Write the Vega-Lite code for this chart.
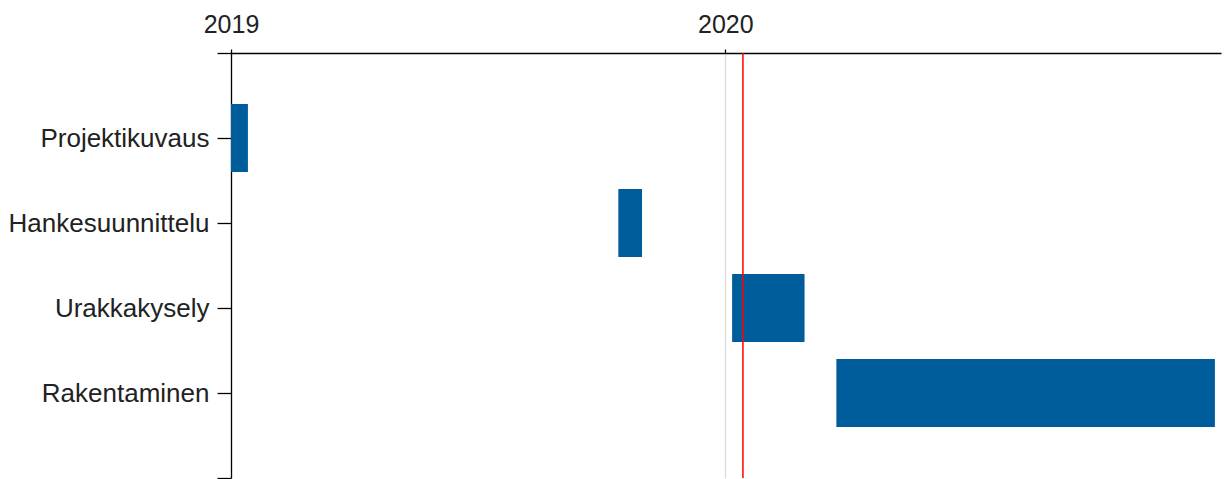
{
  "$schema": "https://vega.github.io/schema/vega-lite/v6.json",
  "description": "Gantt chart of project phases",
  "autosize": {"type": "none"},
  "padding": {"left": 231, "top": 53, "right": 9, "bottom": 1},
  "width": 990,
  "height": 425,
  "background": "white",
  "config": {
    "view": {"stroke": null},
    "font": "Liberation Sans",
    "axis": {
      "labelFont": "Liberation Sans",
      "labelColor": "#222222",
      "domainColor": "#000000",
      "tickColor": "#000000",
      "domainWidth": 1.3,
      "tickWidth": 1.3
    }
  },
  "layer": [
    {
      "data": {
        "values": [
          {"task": "Projektikuvaus", "start": "2019-01-01T00:00:00", "end": "2019-01-13T12:00:00"},
          {"task": "Hankesuunnittelu", "start": "2019-10-14T00:00:00", "end": "2019-10-31T12:00:00"},
          {"task": "Urakkakysely", "start": "2020-01-06T00:00:00", "end": "2020-02-28T12:00:00"},
          {"task": "Rakentaminen", "start": "2020-03-23T00:00:00", "end": "2020-12-27T12:00:00"}
        ]
      },
      "mark": {"type": "bar", "size": 68, "color": "#005d9c"},
      "encoding": {
        "x": {
          "field": "start",
          "type": "temporal",
          "scale": {
            "domain": [
              {"year": 2019, "month": 1, "date": 1},
              {"year": 2021, "month": 1, "date": 1}
            ],
            "nice": false
          },
          "axis": {
            "orient": "top",
            "title": null,
            "format": "%Y",
            "values": [
              {"year": 2019, "month": 1, "date": 1},
              {"year": 2020, "month": 1, "date": 1}
            ],
            "labelFontSize": 25,
            "labelPadding": 12,
            "tickSize": 4,
            "grid": true,
            "gridColor": "#d9d9d9",
            "gridWidth": 1.2,
            "labelFlush": false
          }
        },
        "x2": {"field": "end"},
        "y": {
          "field": "task",
          "type": "nominal",
          "scale": {
            "type": "point",
            "padding": 0,
            "domain": [" ", "Projektikuvaus", "Hankesuunnittelu", "Urakkakysely", "Rakentaminen", "  "]
          },
          "axis": {
            "title": null,
            "labelFontSize": 26,
            "labelPadding": 8,
            "labelLimit": 400,
            "tickSize": 14,
            "grid": false
          }
        }
      }
    },
    {
      "data": {"values": [{"today": "2020-01-14T00:00:00"}]},
      "mark": {"type": "rule", "color": "#ff0000", "strokeWidth": 1.5},
      "encoding": {
        "x": {"field": "today", "type": "temporal"}
      }
    }
  ]
}
